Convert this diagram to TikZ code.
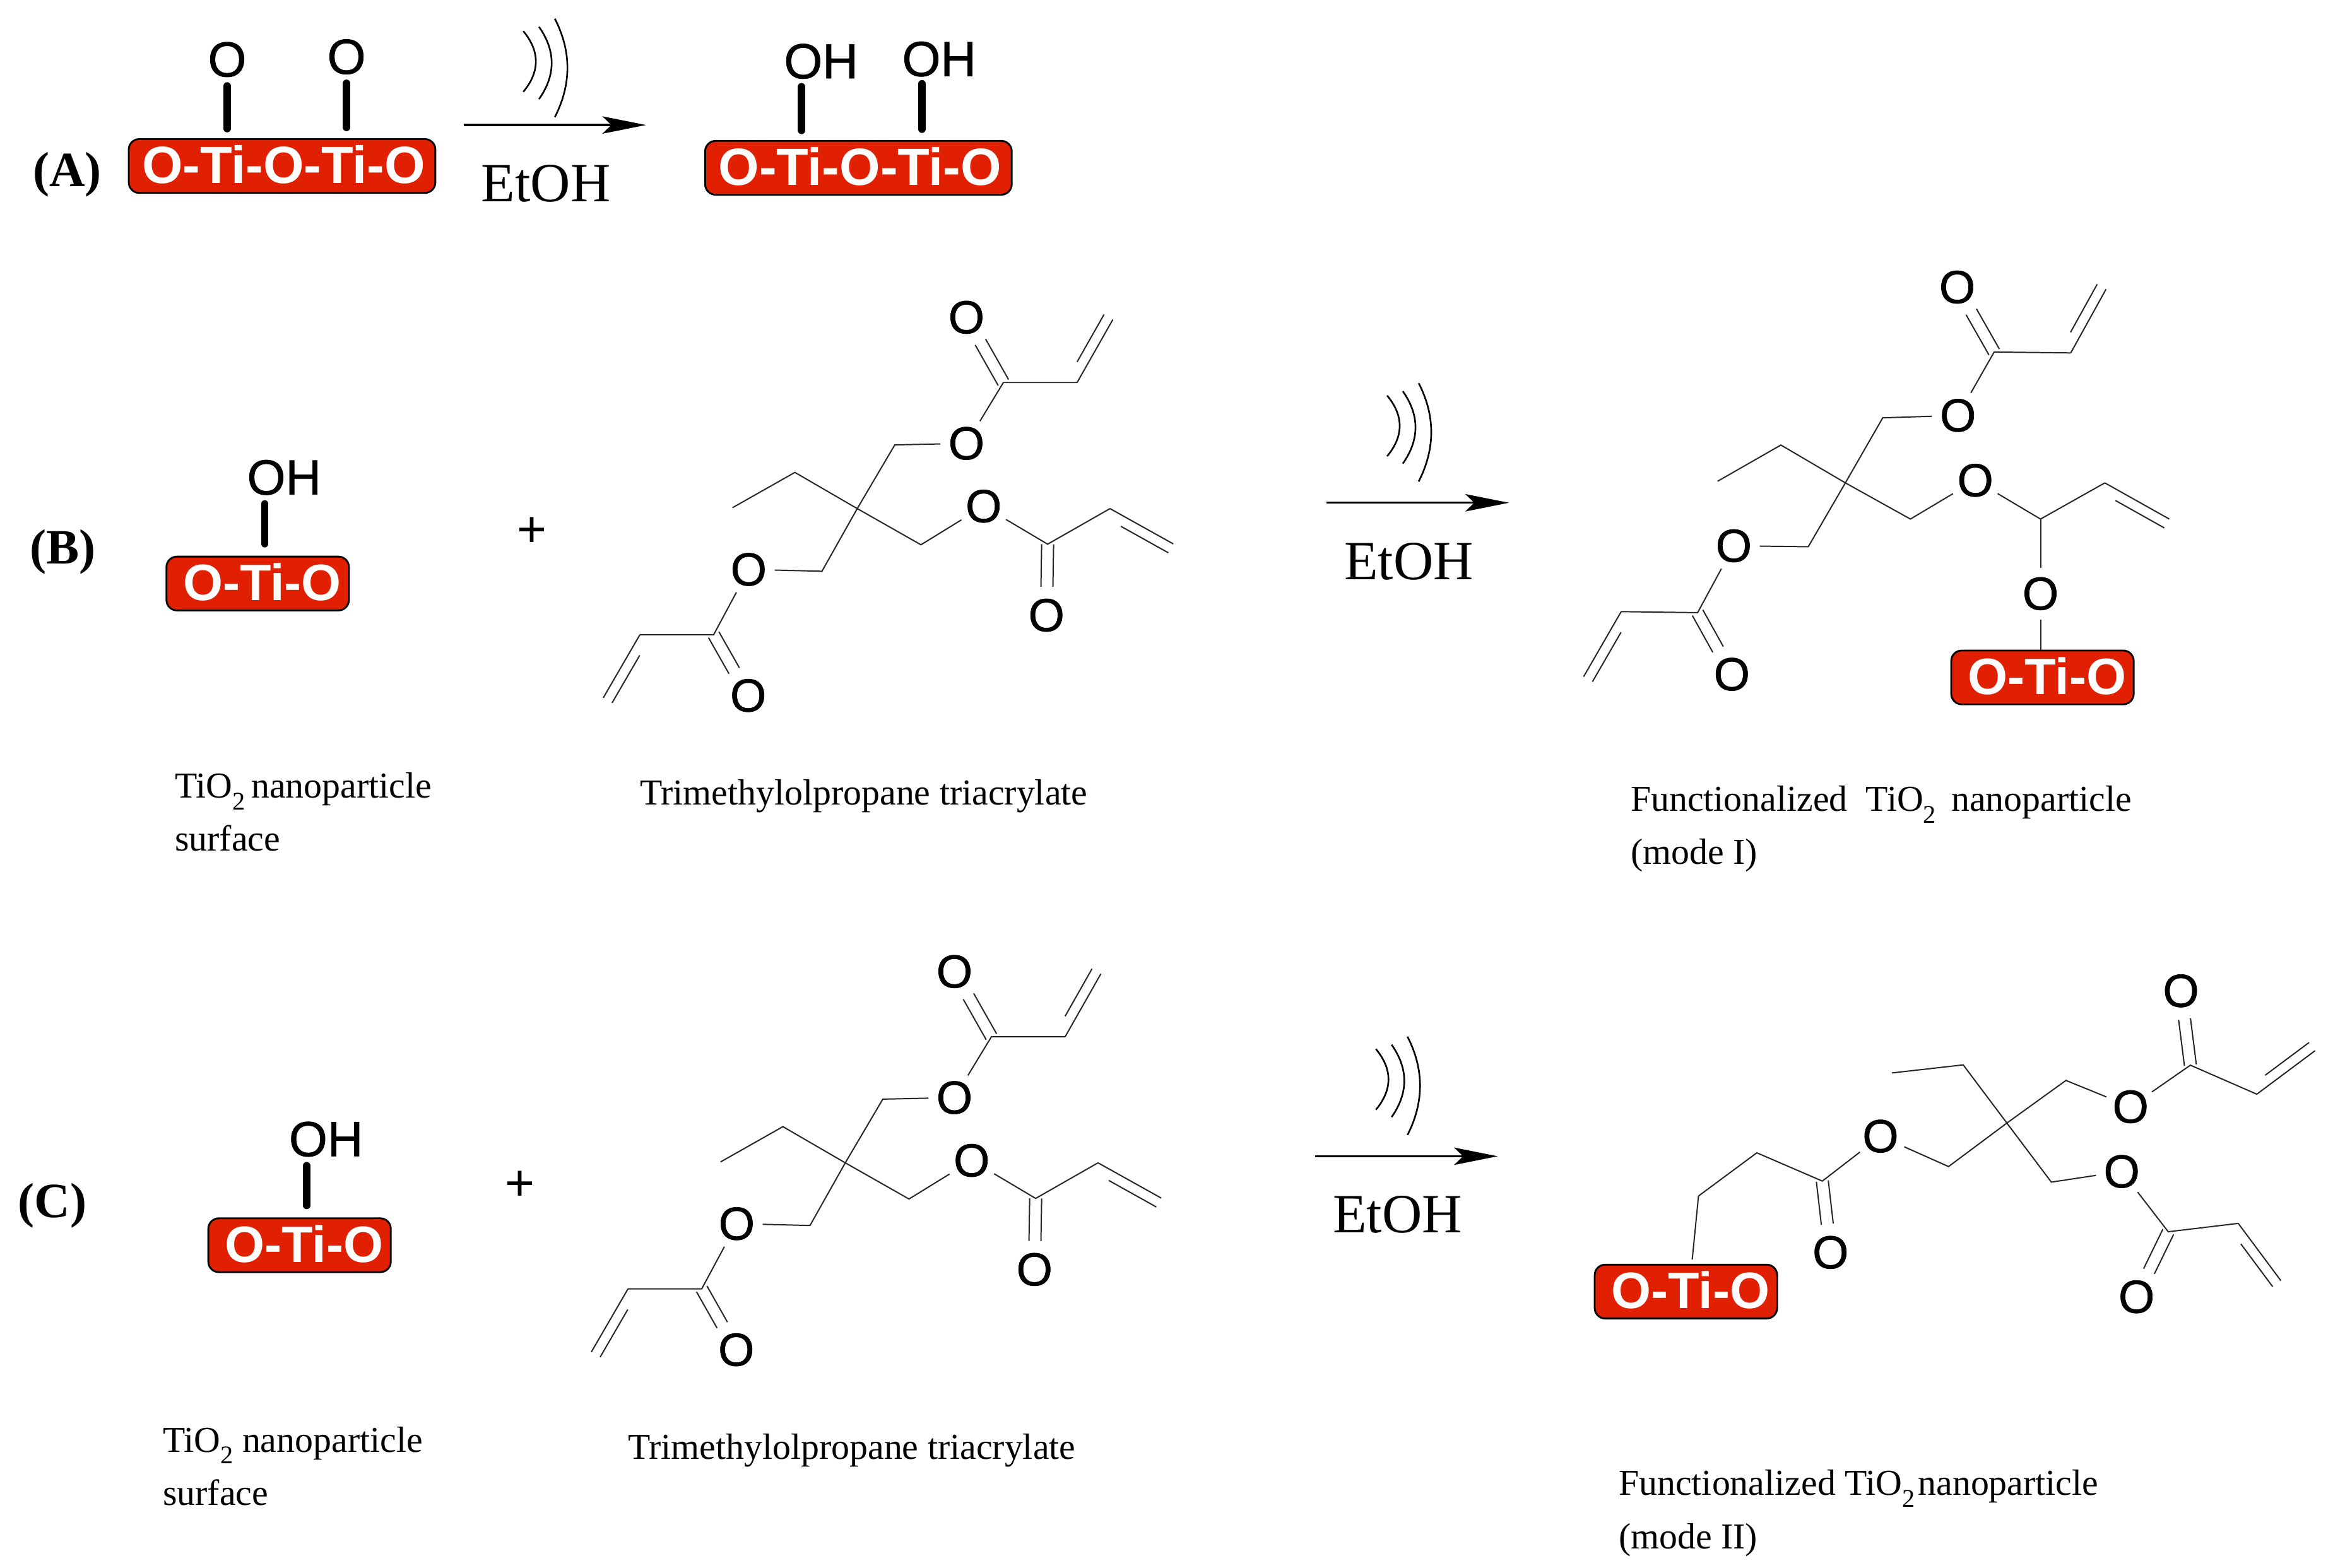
\documentclass[tikz,border=0pt]{standalone}
\usepackage{fontspec}
\usetikzlibrary{calc,arrows.meta}
\setmainfont{Liberation Serif}
\newfontfamily\chemfont{Liberation Sans}
\newfontfamily\chemheavy[FakeBold=1]{Liberation Sans}
\definecolor{tired}{RGB}{224,32,0}
\newcommand\subtwo{\raisebox{-.32em}{\fontsize{8.5}{8.5}\selectfont 2}\kern-1pt}
\tikzset{
  x=0.5pt,y=-0.5pt,
  bond/.style={line width=.42pt,draw=black!85},
  heavy/.style={line width=2.5pt,line cap=round,draw=black},
  wave/.style={line width=.55pt,draw=black},
  rxn/.style={line width=.7pt,draw=black,-{Stealth[length=14.6pt,width=5.8pt,inset=3pt]}},
  oatom/.style={circle,inner sep=0pt,minimum size=17pt,font=\chemheavy\fontsize{15.5}{15.5}\selectfont},
  bigatom/.style={inner sep=0pt,font=\chemheavy\fontsize{16.5}{16.5}\selectfont},
  tibox/.style={rectangle,rounded corners=3.5pt,draw=black,line width=.6pt,fill=tired,text=white,inner sep=0pt,minimum height=18pt,text depth=1pt,font=\chemfont\bfseries\fontsize{17.1}{17.1}\selectfont},
  longbox/.style={tibox,minimum width=102.5pt,font=\chemfont\bfseries\fontsize{17.5}{17.5}\selectfont},
  solvent/.style={anchor=base,inner sep=0pt,font=\fontsize{18.5}{18.5}\selectfont},
  panel/.style={anchor=base,inner sep=0pt,font=\bfseries\fontsize{16.5}{16.5}\selectfont},
  caption/.style={anchor=base west,inner sep=0pt,font=\fontsize{12.2}{12.2}\selectfont},
  plus/.style={inner sep=0pt,font=\chemfont\fontsize{17}{17}\selectfont},
}
% carbonyl: two lines either side of the axis, stopping short of the O
\newcommand\carbonyl[2]{%
  \coordinate (dblA) at (#1.center);
  \coordinate (dblB) at (#2.center);
  \draw[bond,shorten >=9.5pt] ($(dblA)!2pt!90:(dblB)$) -- ($(dblB)!2pt!-90:(dblA)$);
  \draw[bond,shorten >=9.5pt] ($(dblA)!2pt!-90:(dblB)$) -- ($(dblB)!2pt!90:(dblA)$);}
% vinyl: main line and a shorter inner line, #3 = 90 or -90 picks the side
\newcommand\vinyl[3]{\draw[bond] (#1) -- (#2);
  \draw[bond,shorten <=6pt] ($(#1.center)!3.4pt!#3:(#2.center)$) -- ($(#2.center)!3.4pt!-#3:(#1.center)$);}
\newcommand\sonic{%
  \draw[wave] (927.5,264.5) .. controls (938.7,278) and (938.7,291.6) .. (927.5,305.1);
  \draw[wave] (938,261.6) .. controls (949.3,277.7) and (949.3,293.9) .. (938,310);
  \draw[wave] (948.6,256.2) .. controls (959.8,278) and (959.8,300) .. (948.6,322);}
\newcommand\rxnarrow{%
  \coordinate (from) at (887,336.2);
  \coordinate (to) at (1009,336.2);
  \draw[rxn] (from) -- (to);
  \node[solvent] (solv) at (942,387.4) {EtOH};}
\newcommand\tmpta{%
  \coordinate (ctr) at (573.2,340.1);
  \coordinate (me) at (489.8,339.5);
  \coordinate (et) at (531.5,315.9);
  \coordinate (cha) at (598.3,297.5);
  \coordinate (chb) at (549.6,382);
  \coordinate (chc) at (615.8,364.3);
  \coordinate (ca) at (670.9,255.8);
  \coordinate (cb) at (720.2,255.8);
  \coordinate (cz) at (744.1,213.7);
  \coordinate (cc) at (477.2,424.4);
  \coordinate (cd) at (427.9,424.4);
  \coordinate (cy) at (403.4,466.6);
  \coordinate (ce) at (700.5,363.9);
  \coordinate (cf) at (742.2,340.1);
  \coordinate (cx) at (784.5,363.7);
  \node[oatom] (oa) at (646.2,296.5) {O};
  \node[oatom] (oad) at (646.2,212.2) {O};
  \node[oatom] (ob) at (500.6,380.8) {O};
  \node[oatom] (obd) at (500.3,465.1) {O};
  \node[oatom] (oc) at (657.7,338.5) {O};
  \node[oatom] (ocd) at (699.7,411.4) {O};
  \draw[bond] (me) -- (et) -- (ctr) -- (chc) -- (oc);
  \draw[bond] (oa) -- (cha) -- (ctr) -- (chb) -- (ob);
  \draw[bond] (oa) -- (ca) -- (cb);
  \vinyl{cb}{cz}{90}
  \carbonyl{ca}{oad}
  \draw[bond] (ob) -- (cc) -- (cd);
  \vinyl{cd}{cy}{90}
  \carbonyl{cc}{obd}
  \draw[bond] (oc) -- (ce) -- (cf);
  \vinyl{cf}{cx}{-90}
  \carbonyl{ce}{ocd}}
\begin{document}
\begin{tikzpicture}
\useasboundingbox (0,0) rectangle (1568,1048.55);

% ---------- panel A
\node[panel] (lA) at (45,124.5) {(A)};
\node[longbox] (a-box1) at (188.6,111) {\kern1pt O-Ti-O-Ti-O};
\node[longbox] (a-box2) at (574,112.2) {\kern1pt O-Ti-O-Ti-O};
\node[oatom,font=\chemheavy\fontsize{16.5}{16.5}\selectfont,minimum size=15.5pt] (a-o1) at (151.9,39.8) {O};
\node[oatom,font=\chemheavy\fontsize{16.5}{16.5}\selectfont,minimum size=15.5pt] (a-o2) at (231.7,38) {O};
\draw[heavy,shorten >=3.2pt] (a-o1) -- (a-o1 |- a-box1.north);
\draw[heavy,shorten >=3.6pt] (a-o2) -- (a-o2 |- a-box1.north);
\node[bigatom] (a-oh1) at (549,41) {OH};
\node[bigatom] (a-oh2) at (628,39.5) {OH};
\coordinate (a-t1) at (536,58);
\coordinate (a-t2) at (616.5,56);
\draw[heavy,shorten >=3.2pt] (a-t1) -- (a-t1 |- a-box2.north);
\draw[heavy,shorten >=3.6pt] (a-t2) -- (a-t2 |- a-box2.north);
\begin{scope}[shift={(-577.6,-243.7)}]\sonic\end{scope}
\begin{scope}[shift={(-577,-252.6)},name prefix=a-]\rxnarrow\end{scope}

% ---------- panel B
\node[panel] (lB) at (42,377) {(B)};
\node[tibox,minimum width=61pt] (b-box) at (172.3,390.2) {\kern3pt O-Ti-O};
\node[bigatom] (b-oh) at (190,319.3) {OH};
\coordinate (b-t) at (177,337);
\draw[heavy,shorten >=4pt] (b-t) -- (b-t |- b-box.north);
\node[plus] (b-plus) at (355.7,356) {+};
\begin{scope}[name prefix=b-]\tmpta\rxnarrow\end{scope}
\sonic
\node[caption] (b-c1) at (116.6,533.6) {TiO\subtwo\ nanoparticle};
\node[caption] (b-c2) at (116.6,569) {surface};
\node[caption] (b-c3) at (427.5,538.4) {Trimethylolpropane triacrylate};
\node[caption] (b-c4) at (1090,542.5) {Functionalized\ \ TiO\subtwo\ \ nanoparticle};
\node[caption] (b-c5) at (1090,578) {(mode I)};

% product I
\begin{scope}[name prefix=p-]
\coordinate (ctr) at (1233.9,322.9);
\coordinate (me) at (1148.5,321.8);
\coordinate (et) at (1190.8,297.6);
\coordinate (cha) at (1258.9,279.4);
\coordinate (chb) at (1209.1,365.6);
\coordinate (chc) at (1277.4,347.1);
\coordinate (c1) at (1333.4,235.4);
\coordinate (c2) at (1384.6,236);
\coordinate (cz) at (1408.2,193.4);
\coordinate (c3) at (1135.1,409.7);
\coordinate (c4) at (1084,409);
\coordinate (cy) at (1058.9,452.5);
\coordinate (c5) at (1364.4,347.1);
\coordinate (c6) at (1407.4,322.9);
\coordinate (cx) at (1450.5,347.1);
\node[oatom] (o1) at (1308.7,192) {O};
\node[oatom] (o2) at (1309.2,277.8) {O};
\node[oatom] (o3) at (1159.3,365) {O};
\node[oatom] (o4) at (1158,450.9) {O};
\node[oatom] (o5) at (1320.8,321.2) {O};
\node[oatom] (o6) at (1364.4,397) {O};
\node[tibox,minimum width=61pt] (box) at (1365.7,453) {\kern3pt O-Ti-O};
\draw[bond] (me) -- (et) -- (ctr) -- (chc) -- (o5) -- (c5) -- (c6);
\draw[bond] (o2) -- (cha) -- (ctr) -- (chb) -- (o3);
\draw[bond] (o2) -- (c1) -- (c2);
\vinyl{c2}{cz}{90}
\carbonyl{c1}{o1}
\draw[bond] (o3) -- (c3) -- (c4);
\vinyl{c4}{cy}{90}
\carbonyl{c3}{o4}
\vinyl{c6}{cx}{-90}
\draw[bond] (c5) -- (o6);
\draw[bond] (o6) -- (o6 |- box.north);
\end{scope}

% ---------- panel C
\node[panel] (lC) at (35,814) {(C)};
\node[tibox,minimum width=61pt] (c-box) at (200.3,832.7) {\kern3pt O-Ti-O};
\node[bigatom] (c-oh) at (218,761.8) {OH};
\coordinate (c-t) at (205,779.5);
\draw[heavy,shorten >=4pt] (c-t) -- (c-t |- c-box.north);
\node[plus] (c-plus) at (347.7,793) {+};
\begin{scope}[shift={(-8,437.5)},name prefix=c-]\tmpta\end{scope}
\begin{scope}[shift={(-7.5,437)}]\sonic\end{scope}
\begin{scope}[shift={(-7.5,437)},name prefix=c-]\rxnarrow\end{scope}
\node[caption] (c-c1) at (108.6,971) {TiO\subtwo\kern1pt\ nanoparticle};
\node[caption] (c-c2) at (108.6,1006.5) {surface};
\node[caption] (c-c3) at (419.5,975.9) {Trimethylolpropane triacrylate};
\node[caption] (c-c4) at (1082,1000) {Functionalized TiO\subtwo\kern-1pt\ nanoparticle};
\node[caption] (c-c5) at (1082,1035.5) {(mode II)};

% product II
\begin{scope}[name prefix=q-]
\coordinate (ctr) at (1341.9,751);
\coordinate (me) at (1265,717.5);
\coordinate (et) at (1312.7,712.1);
\coordinate (tie) at (1131.5,842.3);
\coordinate (c1) at (1135.7,799.8);
\coordinate (c2) at (1174.7,770.9);
\coordinate (c3) at (1218.5,789.8);
\coordinate (ch1) at (1302.9,780.1);
\coordinate (ch2) at (1381.4,722.5);
\coordinate (ch3) at (1371.6,790.5);
\coordinate (c4) at (1464.6,712.3);
\coordinate (c5) at (1509,731.7);
\coordinate (cz) at (1548,702.6);
\coordinate (c6) at (1449.8,823.7);
\coordinate (c7) at (1496.6,818.1);
\coordinate (cy) at (1525.1,856.4);
\node[oatom] (o1) at (1224,837.5) {O};
\node[oatom] (o2) at (1257.4,759.8) {O};
\node[oatom] (o3) at (1424.6,740.1) {O};
\node[oatom] (o4) at (1458.3,662.6) {O};
\node[oatom] (o5) at (1418.7,783.4) {O};
\node[oatom] (o6) at (1428.6,867.2) {O};
\node[tibox,minimum width=61pt] (box) at (1127.3,863.7) {\kern3pt O-Ti-O};
\draw[bond] (tie) -- (c1) -- (c2) -- (c3) -- (o2) -- (ch1) -- (ctr) -- (ch2) -- (o3) -- (c4) -- (c5);
\carbonyl{c3}{o1}
\carbonyl{c4}{o4}
\vinyl{c5}{cz}{90}
\draw[bond] (me) -- (et) -- (ctr) -- (ch3) -- (o5) -- (c6) -- (c7);
\carbonyl{c6}{o6}
\vinyl{c7}{cy}{-90}
\end{scope}
\end{tikzpicture}
\end{document}
